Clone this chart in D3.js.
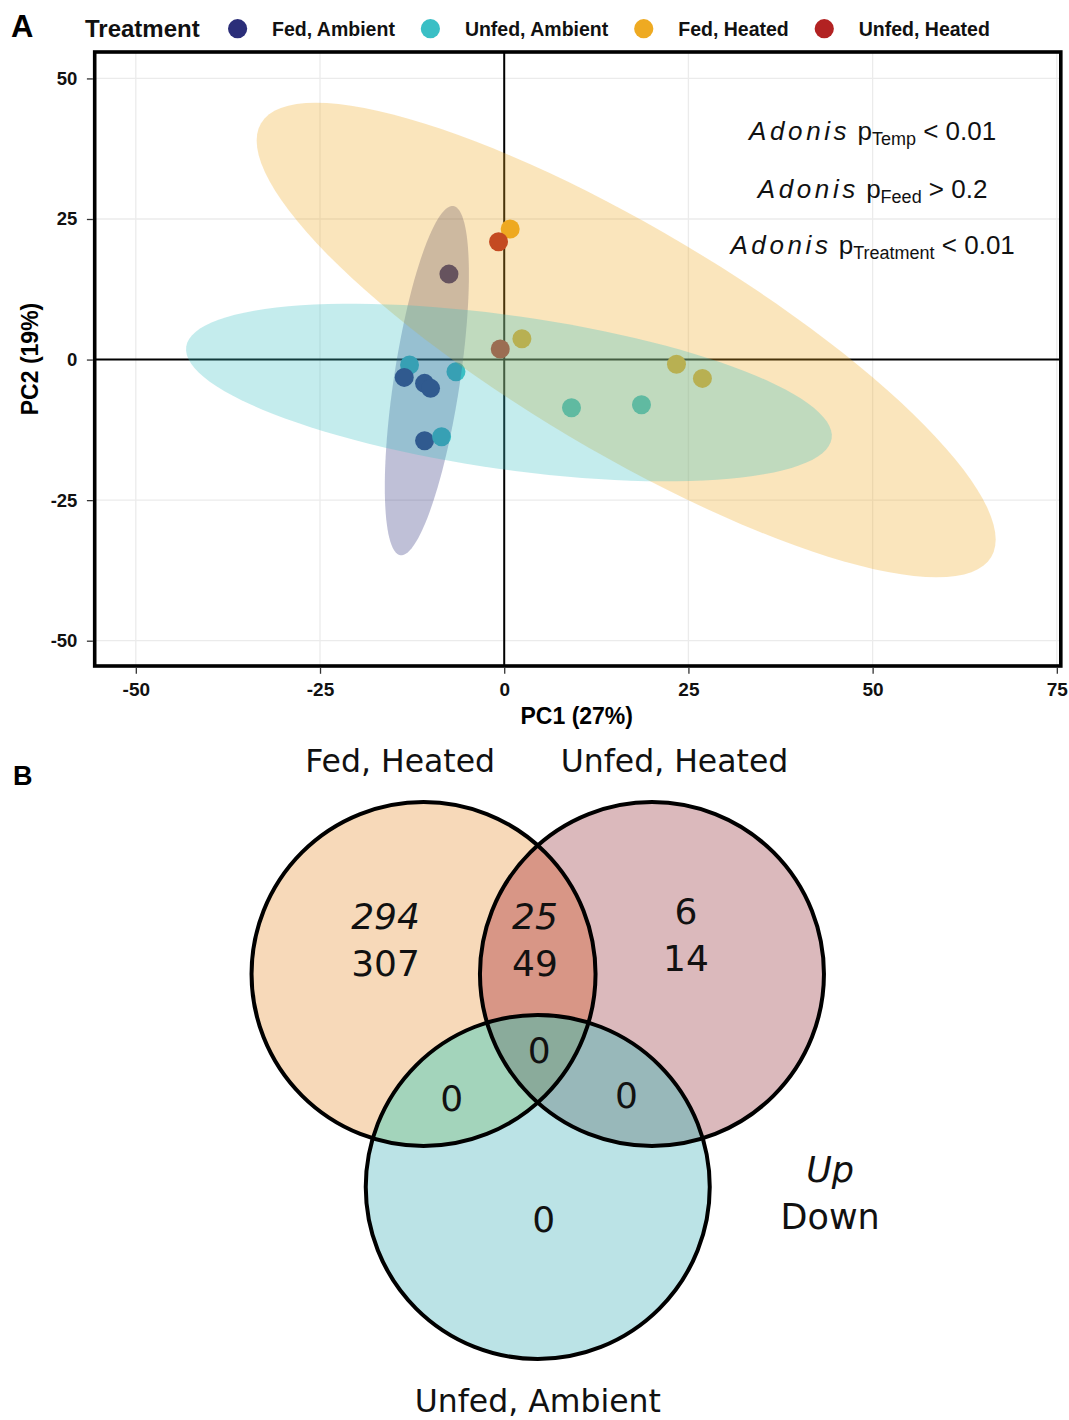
<!DOCTYPE html>
<html>
<head>
<meta charset="utf-8">
<script src="https://cdn.jsdelivr.net/npm/d3@7"></script>
<style>
  body { margin: 0; background: #fff; }
  svg { display: block; }
  text { font-family: "Liberation Sans", Arial, Helvetica, sans-serif; }
  .venn text { font-family: "DejaVu Sans", sans-serif; }
</style>
</head>
<body>
<svg id="fig" width="1069" height="1420"></svg>
<script>
// ---------------- Panel A data (PCA scores) ----------------
const treatments = ["Fed, Ambient", "Unfed, Ambient", "Fed, Heated", "Unfed, Heated"];
const treatmentColors = ["#2b2e79", "#3abfc5", "#eeaa22", "#b22222"];

// one entry per sample, in drawing order
const sampleGroup = ["Unfed, Ambient", "Fed, Ambient", "Fed, Ambient", "Fed, Ambient",
                     "Fed, Ambient", "Unfed, Ambient", "Unfed, Ambient", "Unfed, Ambient",
                     "Unfed, Ambient", "Fed, Ambient", "Fed, Heated", "Fed, Heated",
                     "Fed, Heated", "Fed, Heated", "Unfed, Heated", "Unfed, Heated"];
const pc1 = [-12.85, -13.57, -10.81, -10.0, -10.81, -8.5, -6.55, 9.13,
             18.63, -7.5, 0.81, 2.4, 23.38, 26.9, -0.77, -0.54];
const pc2 = [-0.98, -3.17, -4.23, -5.12, -14.45, -13.74, -2.17, -8.58,
             -8.04, 15.2, 23.22, 3.7, -0.85, -3.35, 20.96, 1.87];

// confidence ellipses (PC units): centre, semi-axis vectors
const ellipseGroup = ["Fed, Ambient", "Fed, Heated", "Unfed, Ambient"];
const ellipseCx = [-10.5, 16.55, 0.64];
const ellipseCy = [-3.74, 3.47, -5.87];
const ellipseA = [[3.6, 31.05], [49.55, -38.58], [43.8, -8.15]];
const ellipseB = [[4.43, -0.88], [-7.74, -17.1], [-1.46, -13.53]];

const xTicks = [-50, -25, 0, 25, 50, 75];
const yTicks = [-50, -25, 0, 25, 50];

const adonisTerm = ["Temp", "Feed", "Treatment"];
const adonisSign = ["<", ">", "<"];
const adonisP = ["0.01", "0.2", "0.01"];
const adonisY = [39.1, 28.7, 18.7];

// ---------------- Panel B data (Venn counts) ----------------
const vennSets = ["Fed, Heated", "Unfed, Heated", "Unfed, Ambient"];
const vennRegions = ["FH only", "FH & UH", "UH only", "FH & UH & UA", "FH & UA", "UH & UA", "UA only"];
const regionUp = [294, 25, 6, null, null, null, null];
const regionDown = [307, 49, 14, 0, 0, 0, 0];

const svg = d3.select("#fig");
const defs = svg.append("defs");

// ================= Panel A =================
const margin = { left: 94.7, right: 1060.8, top: 52, bottom: 666 };
const x = d3.scaleLinear().domain([-55.58, 75.54]).range([margin.left, margin.right]);
const y = d3.scaleLinear().domain([-54.5, 54.7]).range([margin.bottom, margin.top]);
const color = d3.scaleOrdinal().domain(treatments).range(treatmentColors);

const gA = svg.append("g");

// grid
gA.append("g").selectAll("line")
  .data(xTicks.filter(d => x(d) > margin.left && x(d) < margin.right))
  .join("line")
    .attr("x1", d => x(d)).attr("x2", d => x(d))
    .attr("y1", margin.top).attr("y2", margin.bottom)
    .attr("stroke", "#ebebeb").attr("stroke-width", 1.3);
gA.append("g").selectAll("line")
  .data(yTicks)
  .join("line")
    .attr("y1", d => y(d)).attr("y2", d => y(d))
    .attr("x1", margin.left).attr("x2", margin.right)
    .attr("stroke", "#ebebeb").attr("stroke-width", 1.3);

// zero reference lines
gA.append("line")
  .attr("x1", x(0)).attr("x2", x(0)).attr("y1", margin.top).attr("y2", margin.bottom)
  .attr("stroke", "#000").attr("stroke-width", 2);
gA.append("line")
  .attr("y1", y(0)).attr("y2", y(0)).attr("x1", margin.left).attr("x2", margin.right)
  .attr("stroke", "#000").attr("stroke-width", 2);

// points
gA.append("g").selectAll("circle")
  .data(pc1.map((v, i) => ({ pc1: v, pc2: pc2[i], group: sampleGroup[i] })))
  .join("circle")
    .attr("cx", d => x(d.pc1))
    .attr("cy", d => y(d.pc2))
    .attr("r", 9.5)
    .attr("fill", d => color(d.group));

// ellipses drawn over the points, translucent
const ellipseLine = d3.line().x(d => x(d[0])).y(d => y(d[1])).curve(d3.curveLinearClosed);
ellipseGroup.forEach((g, i) => {
  const pts = d3.range(120).map(k => {
    const t = k / 120 * 2 * Math.PI;
    return [ellipseCx[i] + ellipseA[i][0] * Math.cos(t) + ellipseB[i][0] * Math.sin(t),
            ellipseCy[i] + ellipseA[i][1] * Math.cos(t) + ellipseB[i][1] * Math.sin(t)];
  });
  gA.append("path")
    .attr("d", ellipseLine(pts))
    .attr("fill", color(g))
    .attr("fill-opacity", 0.3)
    .attr("stroke", "none");
});

// panel border
gA.append("rect")
  .attr("x", margin.left).attr("y", margin.top)
  .attr("width", margin.right - margin.left).attr("height", margin.bottom - margin.top)
  .attr("fill", "none").attr("stroke", "#000").attr("stroke-width", 3.6);

// axes
const xAxis = gA.append("g")
  .attr("transform", `translate(0,${margin.bottom + 1.8})`)
  .call(d3.axisBottom(x).tickValues(xTicks).tickSize(6).tickFormat(d => String(d)));
xAxis.select(".domain").remove();
xAxis.selectAll("line").attr("stroke", "#333").attr("stroke-width", 1.3);
xAxis.selectAll("text").attr("y", 28).attr("dy", null)
  .attr("font-size", 19).attr("font-weight", "bold").attr("fill", "#111");

const yAxis = gA.append("g")
  .attr("transform", `translate(${margin.left - 1.8},0)`)
  .call(d3.axisLeft(y).tickValues(yTicks).tickSize(6).tickFormat(d => String(d)));
yAxis.select(".domain").remove();
yAxis.selectAll("line").attr("stroke", "#333").attr("stroke-width", 1.3);
yAxis.selectAll("text").attr("x", -15.5)
  .attr("font-size", 18.5).attr("font-weight", "bold").attr("fill", "#111");

gA.append("text")
  .attr("x", (margin.left + margin.right) / 2 - 1).attr("y", 724)
  .attr("text-anchor", "middle").attr("font-size", 23).attr("font-weight", "bold")
  .text("PC1 (27%)");
gA.append("text")
  .attr("transform", `translate(38,${(margin.top + margin.bottom) / 2}) rotate(-90)`)
  .attr("text-anchor", "middle").attr("font-size", 23).attr("font-weight", "bold")
  .text("PC2 (19%)");

// Adonis annotations
adonisTerm.forEach((term, i) => {
  const t = gA.append("text")
    .attr("x", x(50)).attr("y", y(adonisY[i]))
    .attr("text-anchor", "middle").attr("font-size", 26).attr("fill", "#111");
  t.append("tspan").attr("font-style", "italic").attr("letter-spacing", 3.6).text("Adonis");
  t.append("tspan").text(" p");
  t.append("tspan").attr("font-size", 18).attr("dy", 5).text(term);
  t.append("tspan").attr("dy", -5).text(` ${adonisSign[i]} ${adonisP[i]}`);
});

// legend
const leg = svg.append("g");
leg.append("text").attr("x", 85).attr("y", 37).attr("font-size", 24)
  .attr("font-weight", "bold").attr("fill", "#111").text("Treatment");
let lx = 237.6;
treatments.forEach((tr, i) => {
  leg.append("circle").attr("cx", lx).attr("cy", 28.7).attr("r", 9.6).attr("fill", treatmentColors[i]);
  const lt = leg.append("text").attr("x", lx + 34.5).attr("y", 35.5)
    .attr("font-size", 19.5).attr("font-weight", "bold").attr("fill", "#111").text(tr);
  lx = lx + 34.5 + lt.node().getComputedTextLength() + 35.5;
});

// panel letters
svg.append("text").attr("x", 11).attr("y", 37).attr("font-size", 31)
  .attr("font-weight", "bold").text("A");
svg.append("text").attr("x", 13).attr("y", 785).attr("font-size", 27)
  .attr("font-weight", "bold").text("B");

// ================= Panel B =================
// layout in circle-radius units
const vennCentre = [[-0.664, 0], [0.664, 0], [0, 1.238]];
const vennSetLabelPos = [[-0.80, -1.173], [0.795, -1.173], [0, 2.547]];
const regionPos = [[-0.885, 0.012], [-0.016, 0.01], [0.862, -0.019], [0.009, 0.516],
                   [-0.5, 0.795], [0.515, 0.779], [0.034, 1.498]];
const regionItalicUp = [true, true, false, false, false, false, false];
// colour of every region: single sets, pairs, triple
const singleFill = ["#f7d9b9", "#dbb9bc", "#bbe3e6"];
const pairFill = { "0-1": "#d89686", "0-2": "#a3d4bb", "1-2": "#98b8ba" };
const tripleFill = "#8aab9b";

const radiusPx = 172;
const vx = d3.scaleLinear().domain([0, 1]).range([537.75, 537.75 + radiusPx]);
const vy = d3.scaleLinear().domain([0, 1]).range([974, 974 + radiusPx]);

const gB = svg.append("g").attr("class", "venn");

vennSets.forEach((s, i) => {
  defs.append("clipPath").attr("id", "clip" + i)
    .append("circle")
      .attr("cx", vx(vennCentre[i][0])).attr("cy", vy(vennCentre[i][1])).attr("r", radiusPx);
});
const circleOf = (sel, i) => sel.append("circle")
  .attr("cx", vx(vennCentre[i][0])).attr("cy", vy(vennCentre[i][1])).attr("r", radiusPx);

// single sets
vennSets.forEach((s, i) => circleOf(gB, i).attr("fill", singleFill[i]));
// pairwise overlaps
Object.keys(pairFill).forEach(k => {
  const [a, b] = k.split("-").map(Number);
  circleOf(gB.append("g").attr("clip-path", `url(#clip${a})`), b).attr("fill", pairFill[k]);
});
// triple overlap
circleOf(gB.append("g").attr("clip-path", "url(#clip0)").append("g").attr("clip-path", "url(#clip1)"), 2)
  .attr("fill", tripleFill);
// outlines
vennSets.forEach((s, i) => circleOf(gB, i).attr("fill", "none").attr("stroke", "#000").attr("stroke-width", 4));

gB.selectAll("text.set")
  .data(vennSets)
  .join("text")
    .attr("class", "set")
    .attr("x", (d, i) => vx(vennSetLabelPos[i][0]))
    .attr("y", (d, i) => vy(vennSetLabelPos[i][1]))
    .attr("text-anchor", "middle").attr("font-size", 31.5).attr("fill", "#111")
    .text(d => d);

const lineGap = 47;
vennRegions.forEach((r, i) => {
  const px = vx(regionPos[i][0]), py = vy(regionPos[i][1]);
  if (regionUp[i] !== null) {
    gB.append("text").attr("x", px).attr("y", py - lineGap)
      .attr("text-anchor", "middle").attr("font-size", 36)
      .attr("font-style", regionItalicUp[i] ? "italic" : "normal")
      .attr("fill", "#111").text(regionUp[i]);
  }
  gB.append("text").attr("x", px).attr("y", py)
    .attr("text-anchor", "middle").attr("font-size", 36).attr("fill", "#111")
    .text(regionDown[i]);
});

// Up / Down key
gB.append("text").attr("x", vx(1.70)).attr("y", vy(1.483) - lineGap)
  .attr("text-anchor", "middle").attr("font-size", 35).attr("font-style", "italic")
  .attr("fill", "#111").text("Up");
gB.append("text").attr("x", vx(1.70)).attr("y", vy(1.483))
  .attr("text-anchor", "middle").attr("font-size", 35)
  .attr("fill", "#111").text("Down");
</script>
</body>
</html>
